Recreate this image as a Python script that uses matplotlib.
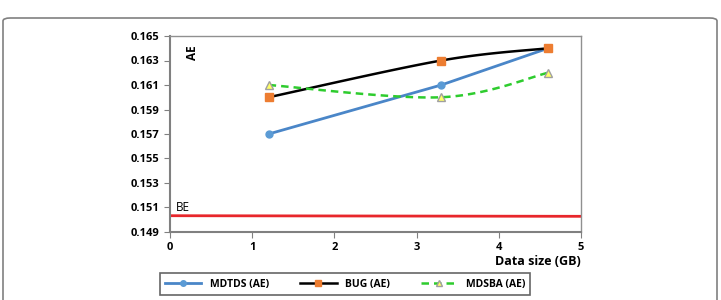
from matplotlib import pyplot as plt
from matplotlib.patches import FancyBboxPatch
import numpy as np

# data
data_size = [1.2, 3.3, 4.6]
mdtds_ae = [0.157, 0.161, 0.164]
bug_ae = [0.160, 0.163, 0.164]
mdsba_ae = [0.161, 0.160, 0.162]
be_x = [0, 5]
be_y = [0.15033, 0.15028]
y_ticks = [0.149, 0.151, 0.153, 0.155, 0.157, 0.159, 0.161, 0.163, 0.165]
x_ticks = [0, 1, 2, 3, 4, 5]


def smooth(x, y, n=40):
  # excel-like smoothed line (catmull-rom through the points)
  x = np.asarray(x, float)
  y = np.asarray(y, float)
  px = np.concatenate([[x[0]], x, [x[-1]]])
  py = np.concatenate([[y[0]], y, [y[-1]]])
  xs, ys = [], []
  for i in range(1, len(px) - 2):
    t = np.linspace(0, 1, n)
    for p, out in ((px, xs), (py, ys)):
      p0, p1, p2, p3 = p[i - 1], p[i], p[i + 1], p[i + 2]
      c1 = p1 + (p2 - p0) / 6
      c2 = p2 - (p3 - p1) / 6
      out.extend((1 - t)**3 * p1 + 3 * (1 - t)**2 * t * c1
                 + 3 * (1 - t) * t**2 * c2 + t**3 * p2)
  return np.array(xs), np.array(ys)


plt.rcParams['font.family'] = ['Open Sans', 'DejaVu Sans']
plt.rcParams['font.weight'] = 'bold'

fig = plt.figure(figsize=(7.21, 3.0), dpi=100)
ax = fig.add_axes([170 / 721, 1 - 232 / 300, 411 / 721, 196 / 300])

# outer rounded frame
fig.patches.append(FancyBboxPatch((3 / 721, -0.1), 714 / 721, 1 - 18 / 300 + 0.1,
                                  boxstyle='round,pad=0,rounding_size=0.01',
                                  transform=fig.transFigure, fill=False,
                                  edgecolor='#808080', linewidth=1.2))

blue = '#4a86c8'
orange = '#ed7d31'
green = '#2ecc2e'

ax.plot(be_x, be_y, color='#e8262b', lw=2)

ax.plot(data_size, mdtds_ae, color=blue, lw=2, marker='o', ms=5,
        mfc='#5b9bd5', mec='#5b9bd5', label='MDTDS (AE)')

bx, by = smooth(data_size, bug_ae)
ax.plot(bx, by, color='black', lw=1.8)
ax.plot(data_size, bug_ae, ls='none', marker='s', ms=5.5, mfc=orange, mec=orange)
ax.plot([], [], color='black', lw=1.8, marker='s', ms=5.5, mfc=orange, mec=orange,
        label='BUG (AE)')

gx, gy = smooth(data_size, mdsba_ae)
ax.plot(gx, gy, color=green, lw=1.8, ls=(0, (3, 2)))
ax.plot(data_size, mdsba_ae, ls='none', marker='^', ms=5.5, mfc='#ffff66', mec='#a0a0a0')
ax.plot([], [], color=green, lw=1.8, ls=(0, (3, 2)), marker='^', ms=5.5,
        mfc='#ffff66', mec='#a0a0a0', label='MDSBA (AE)')

ax.set_xlim(0, 5)
ax.set_ylim(0.149, 0.165)
ax.set_xticks(x_ticks)
ax.set_yticks(y_ticks)
ax.set_yticklabels(['%.3f' % v for v in y_ticks])
ax.tick_params(labelsize=8, length=4, color='#808080')

for s in ['left', 'bottom']:
  ax.spines[s].set_color('#808080')
  ax.spines[s].set_linewidth(1.5)
for s in ['top', 'right']:
  ax.spines[s].set_color('#909090')
  ax.spines[s].set_linewidth(1)

ax.text(0.27, 0.1636, 'AE', rotation=90, fontsize=8.5, ha='center', va='center')
ax.text(0.07, 0.1505, 'BE', fontsize=8.5, fontweight='normal', ha='left', va='bottom')
ax.text(5.0, 0.1471, 'Data size (GB)', fontsize=9, ha='right', va='top')

leg = fig.legend(loc='center', bbox_to_anchor=(345 / 721, 1 - 284 / 300), ncol=3,
                 fontsize=7.5, frameon=True, fancybox=False, edgecolor='#404040',
                 handlelength=3.5, columnspacing=3.0, borderpad=0.5,
                 markerscale=0.8, borderaxespad=0)
leg.get_frame().set_linewidth(1.2)

plt.savefig('out.png', dpi=100)
